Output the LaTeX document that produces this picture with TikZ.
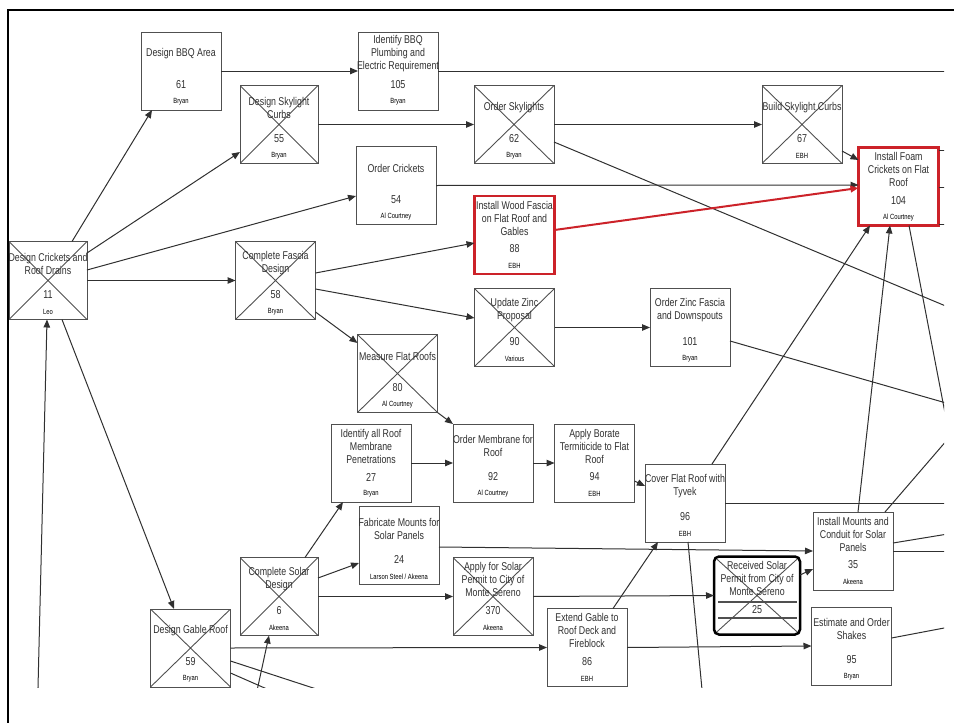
\documentclass[tikz,border=0pt]{standalone}
\usepackage{fontspec}
\setmainfont{Liberation Sans}[FakeStretch=0.78]
\usetikzlibrary{arrows.meta}
\definecolor{boxgray}{HTML}{505050}
\definecolor{linegray}{HTML}{303030}
\definecolor{hotred}{HTML}{CC2229}

% box with title, number and who
\newcommand{\tasknode}[6][]{%
  \node[taskbox,#1] (#2) at (#3) {};
  \node[tasktitle] (#2-t) at ([yshift=-22pt]#2.north) {#4};
  \node[tasknum] (#2-n) at ([yshift=-53pt]#2.north) {#5};
  \node[taskwho] (#2-w) at ([yshift=-70pt]#2.north) {#6};
}

\begin{document}
\begin{tikzpicture}[x=1pt,y=-1pt,
    taskbox/.style = {draw=boxgray, line width=1pt, minimum width=80pt, minimum height=78pt, inner sep=0pt, outer sep=0pt},
    crossed/.style = {path picture={\draw[boxgray, line width=0.9pt]
        (path picture bounding box.north west) -- (path picture bounding box.south east)
        (path picture bounding box.south west) -- (path picture bounding box.north east);}},
    hot/.style = {draw=hotred, line width=2.5pt},
    tasktitle/.style = {align=center, inner sep=0pt, text=linegray, font=\fontsize{11.3}{13}\selectfont},
    tasknum/.style = {inner sep=0pt, text=linegray, font=\fontsize{11.5}{13}\selectfont},
    taskwho/.style = {inner sep=0pt, text=black, font=\fontsize{7.5}{8}\selectfont},
    link/.style = {draw=linegray, line width=1pt, -{Triangle[length=8pt,width=6.5pt]}},
    hotlink/.style = {draw=hotred, line width=2pt, -{Triangle[length=8pt,width=6.5pt]}},
    stub/.style = {draw=linegray, line width=1pt}]
    \useasboundingbox (0,0) rectangle (954,723);

    \begin{scope}
    \clip (0,10) rectangle (944,687);

    % Row 1
    \tasknode{n61}{181,71}{Design BBQ Area}{61}{Bryan}
    \tasknode{n105}{398,71}{Identify BBQ\\Plumbing and\\Electric Requirement}{105}{Bryan}
    \tasknode[crossed, minimum width=78pt]{n55}{279,124.5}{Design Skylight\\Curbs}{55}{Bryan}
    \tasknode[crossed]{n62}{514,124.5}{Order Skylights}{62}{Bryan}
    \tasknode[crossed]{n67}{802,124.5}{Build Skylight Curbs}{67}{EBH}

    % Row 2
    \tasknode{n54}{396,185.5}{Order Crickets}{54}{Al Courtney}
    \tasknode[hot]{n104}{898.5,186.5}{Install Foam\\Crickets on Flat\\Roof}{104}{Al Courtney}
    \tasknode[hot]{n88}{514.5,235}{Install Wood Fascia\\on Flat Roof and\\Gables}{88}{EBH}
    \tasknode[crossed, minimum width=78pt]{n11}{48,280.5}{Design Crickets and\\Roof Drains}{11}{Leo}
    \tasknode[crossed]{n58}{275.5,280.5}{Complete Fascia\\Design}{58}{Bryan}
    \tasknode[crossed]{n90}{514.5,327.5}{Update Zinc\\Proposal}{90}{Various}
    \tasknode{n101}{690,327.5}{Order Zinc Fascia\\and Downspouts}{101}{Bryan}
    \tasknode[crossed]{n80}{397.5,373.5}{Measure Flat Roofs}{80}{Al Courtney}

    % Row 3
    \tasknode{n27}{371,463}{Identify all Roof\\Membrane\\Penetrations}{27}{Bryan}
    \tasknode{n92}{493,463}{Order Membrane for\\Roof}{92}{Al Courtney}
    \tasknode{n94}{594.5,463}{Apply Borate\\Termiticide to Flat\\Roof}{94}{EBH}
    \tasknode{n96}{685,503}{Cover Flat Roof with\\Tyvek}{96}{EBH}
    \tasknode{n24}{399,545.5}{Fabricate Mounts for\\Solar Panels}{24}{Larson Steel / Akeena}
    \tasknode{n35}{853,551}{Install Mounts and\\Conduit for Solar\\Panels}{35}{Akeena}

    % Row 4
    \tasknode[crossed, minimum width=78pt]{n6}{279,596.5}{Complete Solar\\Design}{6}{Akeena}
    \tasknode[crossed]{n370}{493,596.5}{Apply for Solar\\Permit to City of\\Monte Sereno}{370}{Akeena}
    \tasknode[crossed, draw=black, line width=2.5pt, rounded corners=5pt, minimum width=86pt]{n25}{757,595.5}{Received Solar\\Permit from City of\\Monte Sereno}{25}{}
    \draw[boxgray, line width=1.2pt] ([xshift=4pt,yshift=-6.5pt]n25.west) -- ([xshift=-3pt,yshift=-6.5pt]n25.east);
    \draw[boxgray, line width=1.2pt] ([xshift=4pt,yshift=-22.5pt]n25.west) -- ([xshift=-3pt,yshift=-22.5pt]n25.east);
    \tasknode[crossed]{n59}{190.5,648}{Design Gable Roof}{59}{Bryan}
    \tasknode{n86}{587,647.5}{Extend Gable to\\Roof Deck and\\Fireblock}{86}{EBH}
    \tasknode{n95}{851.5,646}{Estimate and Order\\Shakes}{95}{Bryan}

    % Free ends
    \coordinate (b11) at (37.7,700);
    \coordinate (b6) at (255,700);
    \coordinate (b96) at (703,700);
    \coordinate (b59a) at (350,700);
    \coordinate (b59b) at (292,700);
    \coordinate (e105) at (960,71);
    \coordinate (e62) at (960,312);
    \coordinate (e101) at (960,407);
    \coordinate (e104) at (950,439);
    \coordinate (e104a) at (960,150);
    \coordinate (e104b) at (960,187);
    \coordinate (e104c) at (960,224);
    \coordinate (e96) at (960,503);
    \coordinate (e35a) at (960,532);
    \coordinate (e35b) at (960,551);
    \coordinate (e35c) at (960,425);
    \coordinate (e95) at (960,625);

    % Links
    \draw[link] ([xshift=24pt]n11.north) -- ([xshift=-29pt]n61.south);
    \draw[link] ([yshift=27.5pt]n11.east) -- ([yshift=-27.5pt]n55.west);
    \draw[link] ([yshift=10.5pt]n11.east) -- ([yshift=-10.5pt]n54.west);
    \draw[link] (n11.east) -- (n58.west);
    \draw[link] ([xshift=14pt]n11.south) -- ([xshift=-16.5pt]n59.north);
    \draw[link] (b11) -- ([xshift=-1pt]n11.south);
    \draw[link] (n61.east) -- (n105.west);
    \draw[stub] (n105.east) -- (e105);
    \draw[link] (n55.east) -- (n62.west);
    \draw[link] (n62.east) -- (n67.west);
    \draw[stub] ([yshift=-17.5pt]n62.east) -- (e62);
    \draw[link] (n54.east) -- ([yshift=1.5pt]n104.west);
    \draw[link] ([yshift=-26.5pt]n67.east) -- ([yshift=26.5pt]n104.west);
    \draw[hotlink] ([yshift=5pt]n88.east) -- ([yshift=-1.5pt]n104.west);
    \draw[stub] ([yshift=36.5pt]n104.east) -- (e104a);
    \draw[stub] ([yshift=-0.5pt]n104.east) -- (e104b);
    \draw[stub] ([yshift=-37.5pt]n104.east) -- (e104c);
    \draw[stub] ([xshift=10.5pt]n104.south) -- (e104);
    \draw[link] ([yshift=7.5pt]n58.east) -- ([yshift=-8pt]n88.west);
    \draw[link] ([yshift=-8.5pt]n58.east) -- ([yshift=9.5pt]n90.west);
    \draw[link] ([yshift=-31.5pt]n58.east) -- ([yshift=30.5pt]n80.west);
    \draw[link] (n90.east) -- (n101.west);
    \draw[stub] ([yshift=-13.5pt]n101.east) -- (e101);
    \draw[link] (n80.south east) -- (n92.north west);
    \draw[link] (n27.east) -- (n92.west);
    \draw[link] (n92.east) -- (n94.west);
    \draw[link] ([yshift=-18pt]n94.east) -- ([yshift=17pt]n96.west);
    \draw[link] ([xshift=27pt]n96.north) -- ([xshift=-28.5pt]n104.south);
    \draw[stub] (n96.east) -- (e96);
    \draw[stub] ([xshift=3pt]n96.south) -- (b96);
    \draw[link] ([xshift=26pt]n86.north) -- ([xshift=-27pt]n96.south);
    \draw[link] ([yshift=-1.5pt]n24.east) -- (n35.west);
    \draw[stub] ([yshift=8pt]n35.east) -- (e35a);
    \draw[stub] (n35.east) -- (e35b);
    \draw[link] ([xshift=5pt]n35.north) -- ([xshift=-8.5pt]n104.south);
    \draw[stub] ([xshift=32pt]n35.north) -- (e35c);
    \draw[link] ([xshift=26pt]n6.north) -- ([xshift=-28pt]n27.south);
    \draw[link] ([yshift=18.5pt]n6.east) -- ([yshift=-17.5pt]n24.west);
    \draw[link] (n6.east) -- (n370.west);
    \draw[link] (b6) -- ([xshift=-10pt]n6.south);
    \draw[link] (n370.east) -- (n25.west);
    \draw[link] ([yshift=20.5pt]n25.east) -- ([yshift=-18pt]n35.west);
    \draw[link] (n59.east) -- (n86.west);
    \draw[stub] ([yshift=-13pt]n59.east) -- (b59a);
    \draw[stub] ([yshift=-25pt]n59.east) -- (b59b);
    \draw[link] (n86.east) -- (n95.west);
    \draw[stub] ([yshift=8pt]n95.east) -- (e95);
    \end{scope}

    % Frame
    \draw[line width=2.5pt] (8,723) -- (8,10) -- (954,10);
\end{tikzpicture}
\end{document}
